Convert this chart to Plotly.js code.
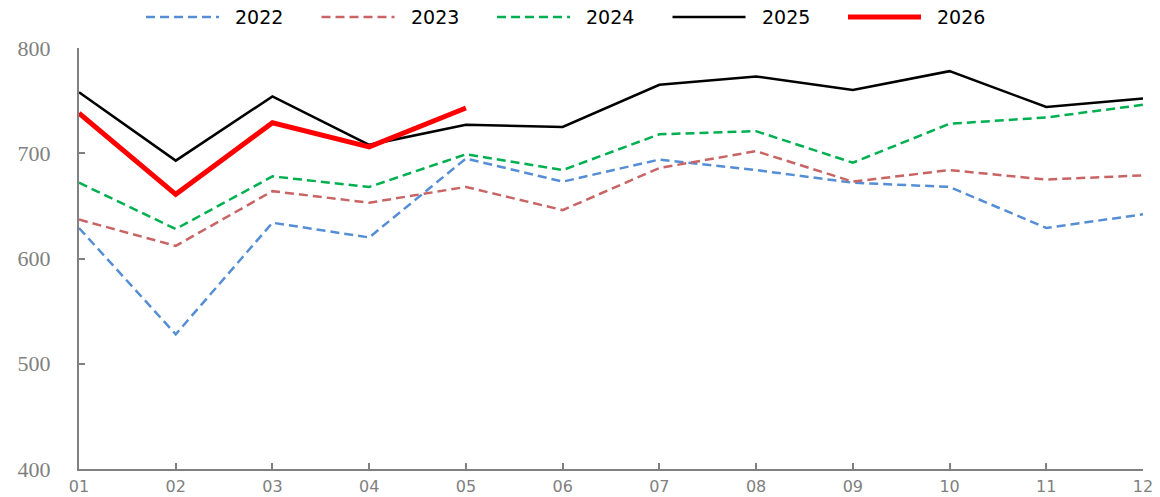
<!DOCTYPE html>
<html>
<head>
<meta charset="utf-8">
<script src="https://cdn.plot.ly/plotly-3.0.1.min.js"></script>
<style>html,body{margin:0;padding:0;background:#fff;}#chart{width:1160px;height:497px;}</style>
</head>
<body>
<div id="chart"></div>
<script>
const months = ["01","02","03","04","05","06","07","08","09","10","11","12"];
const y2022 = [629, 528, 634, 620, 695, 673, 694, 684, 672, 668, 629, 642];
const y2023 = [637, 612, 664, 653, 668, 646, 686, 702, 673, 684, 675, 679];
const y2024 = [672, 628, 678, 668, 699, 684, 718, 721, 691, 728, 734, 746];
const y2025 = [758, 693, 754, 708, 727, 725, 765, 773, 760, 778, 744, 752];
const y2026 = [738, 661, 729, 706, 743];
const seriesNames = ["2022", "2023", "2024", "2025", "2026"];

const styles = [
  {color:"#558ED5", width:2.5, dash:"9px,5px"},
  {color:"#C96464", width:2.5, dash:"9px,5px"},
  {color:"#00B050", width:2.5, dash:"9px,5px"},
  {color:"#000000", width:2.5, dash:"solid"},
  {color:"#FF0000", width:5, dash:"solid"}
];
const allY = [y2022, y2023, y2024, y2025, y2026];

const traces = allY.map((ys, i) => ({
  name: seriesNames[i], x: months.slice(0, ys.length), y: ys,
  type:"scatter", mode:"lines", line: styles[i], showlegend:false
}));

// custom legend (drawn in paper coords above the plot)
const plotL = 79, plotR = 1143, plotT = 48, plotB = 469;
const px2x = p => (p - plotL) / (plotR - plotL);
const py2y = p => (plotB - p) / (plotB - plotT);
const shapes = [], annotations = [];
seriesNames.forEach((nm, i) => {
  const x0 = 146 + i * 175.5;
  shapes.push({type:"line", xref:"paper", yref:"paper",
    x0: px2x(x0), x1: px2x(x0 + 73), y0: py2y(17), y1: py2y(17),
    line:{color: styles[i].color, width: styles[i].width, dash: styles[i].dash}});
  annotations.push({xref:"paper", yref:"paper", x: px2x(x0 + 87), y: py2y(17),
    xanchor:"left", yanchor:"middle", showarrow:false, text: nm,
    font:{family:"DejaVu Sans, Verdana, sans-serif", size:19, color:"#000"}});
});

const layout = {
  width:1160, height:497,
  margin:{l:plotL, r:1160-plotR, t:plotT, b:497-plotB},
  paper_bgcolor:"#fff", plot_bgcolor:"#fff",
  showlegend:false,
  shapes: shapes, annotations: annotations,
  xaxis:{type:"category", range:[0,11], showgrid:false, zeroline:false,
         showline:true, linecolor:"#808080", linewidth:2,
         ticks:"inside", ticklen:6, tickwidth:2, tickcolor:"#808080", ticklabelstandoff:2,
         tickfont:{family:"DejaVu Sans, Verdana, sans-serif", size:16, color:"#808080"}},
  yaxis:{range:[400,800], dtick:100, showgrid:false, zeroline:false,
         showline:true, linecolor:"#808080", linewidth:2,
         ticks:"inside", ticklen:6, tickwidth:2, tickcolor:"#808080", ticklabelstandoff:22,
         tickfont:{family:"Liberation Serif, DejaVu Serif, serif", size:22, color:"#808080"}}
};
Plotly.newPlot("chart", traces, layout, {displayModeBar:false, staticPlot:true});
</script>
</body>
</html>
